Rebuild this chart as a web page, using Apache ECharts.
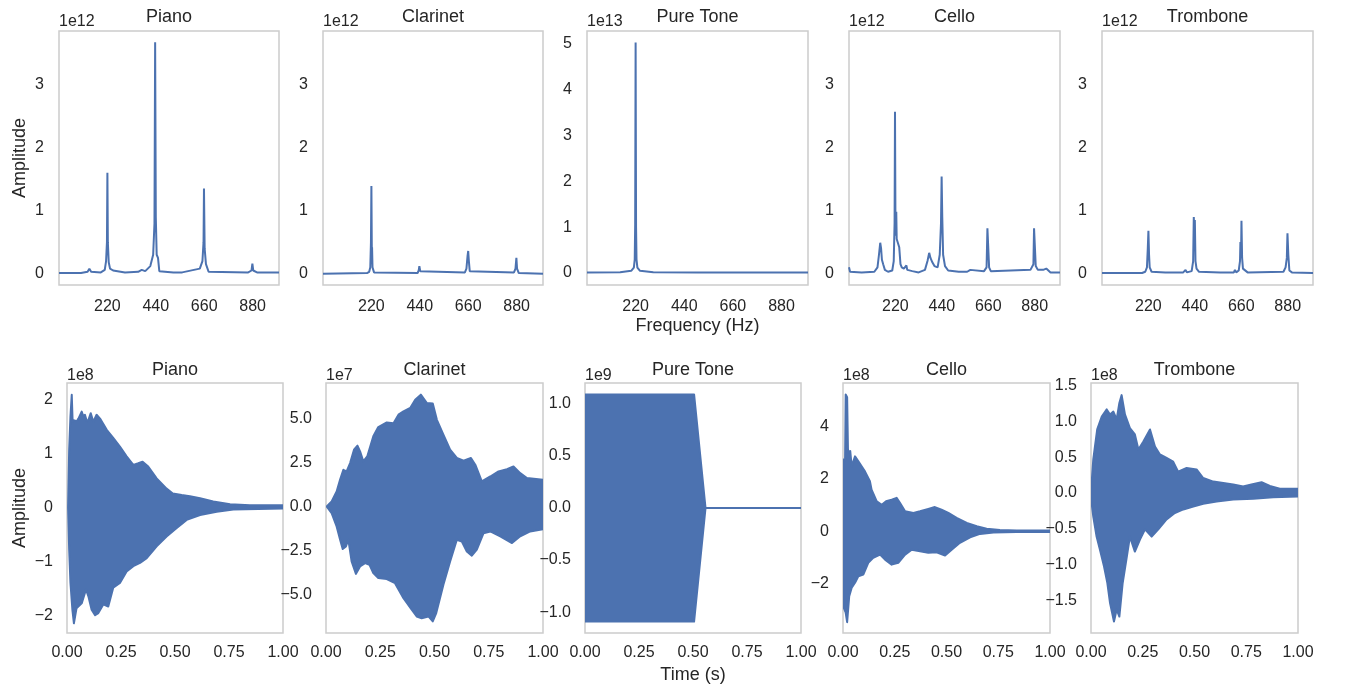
<!DOCTYPE html>
<html>
<head>
<meta charset="utf-8">
<title>Instrument spectra and waveforms</title>
<script src="https://cdn.jsdelivr.net/npm/echarts@6/dist/echarts.min.js"></script>
<style>
  html, body { margin: 0; padding: 0; background: #fff; }
  #chart { width: 1346px; height: 687px; }
</style>
</head>
<body>
<div id="chart"></div>
<script>
// ---- data ----
const instruments = ['Piano', 'Clarinet', 'Pure Tone', 'Cello', 'Trombone']
const freqTicks = [220, 440, 660, 880]
const timeTicks = [0, 0.25, 0.5, 0.75, 1]

// spectra: [Hz, amplitude] (1e12, pure tone 1e13)
const pianoSpec = [[0,0.01],[100,0.01],[130,0.03],[138,0.08],[146,0.03],[190,0.02],[208,0.06],[214,0.2],[218,0.5],[220,1.6],[222,0.5],[226,0.18],[232,0.08],[238,0.1],[246,0.05],[300,0.02],[360,0.03],[376,0.06],[392,0.04],[415,0.12],[428,0.3],[434,0.8],[437,3.67],[440,0.9],[444,0.3],[450,0.25],[456,0.04],[520,0.02],[560,0.02],[640,0.08],[652,0.2],[657,0.5],[659,1.35],[662,0.4],[668,0.15],[680,0.03],[860,0.02],[875,0.05],[879,0.16],[883,0.05],[900,0.02],[1000,0.02]]
const clarinetSpec = [[0,0],[200,0.01],[210,0.03],[215,0.1],[218,0.5],[220,1.39],[222,0.3],[223,0.42],[225,0.1],[232,0.02],[430,0.01],[435,0.05],[438,0.12],[442,0.04],[450,0.01],[645,0.02],[652,0.08],[657,0.28],[660,0.36],[663,0.2],[667,0.04],[675,0.01],[868,0.02],[875,0.08],[879,0.25],[882,0.08],[890,0.01],[1000,0]]
const pureSpec = [[0,0.01],[150,0.02],[200,0.05],[212,0.12],[216,0.3],[218,1.07],[220,5.02],[222,1.0],[224,0.3],[228,0.12],[240,0.05],[300,0.02],[500,0.01],[1000,0.01]]
const celloSpec = [[0,0.1],[5,0.03],[60,0.02],[120,0.03],[135,0.1],[142,0.3],[148,0.49],[152,0.4],[156,0.22],[162,0.15],[170,0.06],[185,0.03],[205,0.05],[212,0.2],[216,0.8],[218,2.57],[220,0.9],[222,0.6],[224,0.98],[226,0.55],[230,0.56],[238,0.42],[244,0.15],[250,0.1],[260,0.08],[268,0.06],[272,0.13],[276,0.06],[300,0.04],[330,0.02],[360,0.06],[372,0.2],[380,0.33],[386,0.25],[395,0.18],[405,0.12],[420,0.1],[430,0.3],[436,0.8],[439,1.54],[442,0.9],[446,0.3],[455,0.12],[470,0.05],[520,0.03],[560,0.03],[575,0.06],[580,0.03],[640,0.04],[652,0.1],[656,0.72],[661,0.73],[664,0.1],[672,0.04],[860,0.06],[874,0.15],[877,0.72],[882,0.73],[885,0.12],[895,0.06],[920,0.06],[935,0.08],[945,0.05],[955,0.02],[1000,0.02]]
const tromboneSpec = [[0,0.01],[190,0.01],[205,0.03],[213,0.1],[217,0.4],[220,0.68],[223,0.3],[226,0.1],[235,0.03],[300,0.02],[385,0.02],[396,0.06],[402,0.02],[425,0.04],[432,0.2],[435,0.9],[438,0.6],[440,0.85],[443,0.2],[448,0.08],[460,0.03],[560,0.02],[625,0.02],[630,0.06],[636,0.02],[648,0.05],[654,0.2],[656,0.5],[659,0.3],[661,0.84],[664,0.25],[668,0.08],[675,0.05],[690,0.02],[860,0.03],[870,0.1],[876,0.25],[879,0.64],[883,0.3],[888,0.05],[900,0.02],[1000,0.01]]

// waveform envelopes: [seconds, amplitude]
const pianoUpper = [[0.005,0],[0.01,1.07],[0.016,1.69],[0.022,2.09],[0.026,1.6],[0.03,1.62],[0.045,1.6],[0.053,1.65],[0.068,1.78],[0.075,1.7],[0.083,1.72],[0.092,1.6],[0.099,1.62],[0.11,1.75],[0.122,1.59],[0.137,1.72],[0.153,1.65],[0.184,1.44],[0.214,1.29],[0.245,1.13],[0.276,0.95],[0.307,0.79],[0.33,0.82],[0.35,0.85],[0.376,0.76],[0.415,0.54],[0.461,0.35],[0.49,0.26],[0.531,0.23],[0.569,0.21],[0.616,0.17],[0.677,0.11],[0.755,0.06],[0.847,0.04],[1.0,0.04]]
const pianoLower = [[0.005,0],[0.01,-0.78],[0.016,-1.4],[0.025,-1.9],[0.032,-2.15],[0.044,-1.87],[0.068,-1.78],[0.088,-1.52],[0.099,-1.65],[0.114,-1.9],[0.13,-2.0],[0.145,-1.96],[0.168,-1.8],[0.191,-1.84],[0.214,-1.49],[0.245,-1.4],[0.276,-1.19],[0.307,-1.09],[0.338,-1.03],[0.369,-0.94],[0.415,-0.72],[0.461,-0.54],[0.508,-0.38],[0.554,-0.23],[0.616,-0.14],[0.693,-0.08],[0.77,-0.04],[1.0,-0.02]]
const clarinetUpper = [[0.003,0],[0.026,0.28],[0.049,0.85],[0.065,1.52],[0.08,2.08],[0.095,1.99],[0.111,2.46],[0.129,3.22],[0.145,3.45],[0.157,3.13],[0.172,2.56],[0.19,2.84],[0.218,3.98],[0.241,4.51],[0.28,4.77],[0.311,4.73],[0.334,5.21],[0.357,5.4],[0.388,5.59],[0.411,6.06],[0.437,6.35],[0.465,5.87],[0.492,5.84],[0.511,4.92],[0.541,4.07],[0.572,3.22],[0.603,2.75],[0.634,2.6],[0.668,2.75],[0.688,2.37],[0.718,1.42],[0.757,1.7],[0.795,1.99],[0.834,2.12],[0.864,2.27],[0.895,1.89],[0.926,1.61],[1.0,1.52]]
const clarinetLower = [[0.003,0],[0.026,-0.38],[0.049,-1.14],[0.065,-1.89],[0.077,-2.42],[0.092,-2.27],[0.103,-1.89],[0.118,-3.12],[0.138,-3.83],[0.157,-3.41],[0.18,-3.22],[0.2,-3.31],[0.218,-3.79],[0.241,-4.07],[0.28,-4.13],[0.318,-4.36],[0.357,-5.21],[0.395,-5.87],[0.418,-6.25],[0.441,-6.35],[0.472,-6.25],[0.492,-6.53],[0.508,-6.06],[0.541,-4.45],[0.572,-3.12],[0.603,-1.89],[0.626,-1.99],[0.649,-2.56],[0.672,-2.8],[0.695,-2.46],[0.726,-1.52],[0.757,-1.42],[0.803,-1.7],[0.857,-2.08],[0.895,-1.7],[0.941,-1.42],[1.0,-1.29]]
const pureUpper = [[0.002,1.09],[0.505,1.09],[0.558,0],[1.0,0]]
const pureLower = [[0.002,-1.09],[0.505,-1.09],[0.558,0],[1.0,0]]
const celloUpper = [[0.001,2.73],[0.01,2.7],[0.013,5.2],[0.02,5.1],[0.024,3.1],[0.03,3.0],[0.035,3.05],[0.042,2.47],[0.058,2.85],[0.079,2.6],[0.106,2.28],[0.13,1.9],[0.138,1.58],[0.163,1.14],[0.187,1.01],[0.208,1.14],[0.235,1.2],[0.259,1.27],[0.275,1.08],[0.3,0.76],[0.34,0.7],[0.372,0.76],[0.412,0.85],[0.444,0.92],[0.476,0.82],[0.509,0.7],[0.549,0.51],[0.598,0.32],[0.646,0.19],[0.694,0.1],[0.758,0.05],[0.839,0.03],[1.0,0.03]]
const celloLower = [[0.001,-2.85],[0.013,-3.1],[0.02,-3.46],[0.03,-2.47],[0.042,-2.15],[0.058,-1.96],[0.074,-1.71],[0.098,-1.65],[0.122,-1.2],[0.146,-1.01],[0.179,-0.89],[0.203,-1.08],[0.235,-1.27],[0.267,-1.2],[0.3,-0.89],[0.332,-0.7],[0.372,-0.76],[0.412,-0.82],[0.452,-0.8],[0.493,-0.92],[0.525,-0.7],[0.565,-0.44],[0.614,-0.23],[0.662,-0.1],[0.727,-0.05],[0.839,-0.03],[1.0,-0.03]]
const tromboneUpper = [[0.003,0.14],[0.011,0.47],[0.019,0.65],[0.03,0.89],[0.052,1.07],[0.076,1.17],[0.092,1.1],[0.108,1.14],[0.124,1.03],[0.137,1.26],[0.148,1.37],[0.164,1.1],[0.188,0.91],[0.212,0.82],[0.229,0.61],[0.253,0.72],[0.285,0.89],[0.309,0.65],[0.333,0.54],[0.365,0.49],[0.397,0.44],[0.421,0.3],[0.462,0.35],[0.51,0.33],[0.542,0.21],[0.591,0.16],[0.639,0.14],[0.687,0.12],[0.735,0.09],[0.775,0.12],[0.824,0.15],[0.864,0.1],[0.912,0.06],[1.0,0.06]]
const tromboneLower = [[0.003,-0.14],[0.011,-0.33],[0.027,-0.61],[0.043,-0.79],[0.063,-1.03],[0.079,-1.26],[0.092,-1.54],[0.111,-1.8],[0.124,-1.63],[0.137,-1.73],[0.153,-1.26],[0.172,-0.91],[0.188,-0.61],[0.212,-0.82],[0.237,-0.65],[0.261,-0.51],[0.293,-0.61],[0.325,-0.51],[0.365,-0.37],[0.405,-0.28],[0.446,-0.23],[0.494,-0.19],[0.542,-0.15],[0.607,-0.12],[0.687,-0.09],[0.784,-0.08],[0.88,-0.06],[1.0,-0.05]]

// tick labels
const specTicks = [0, 1, 2, 3]
const pureSpecTicks = [0, 1, 2, 3, 4, 5]
const waveTicks = [[-2, -1, 0, 1, 2], [-5, -2.5, 0, 2.5, 5], [-1, -0.5, 0, 0.5, 1], [-2, 0, 2, 4], [-1.5, -1, -0.5, 0, 0.5, 1, 1.5]]
const waveDecimals = [0, 1, 1, 0, 1]
const specExp = ['1e12', '1e12', '1e13', '1e12', '1e12']
const waveExp = ['1e8', '1e7', '1e9', '1e8', '1e8']

// ---- layout ----
const COLOR = '#4c72b0'
const TEXT = '#262626'
const FONT = '"Liberation Sans", Arial, sans-serif'
const TICK_SIZE = 16
const TITLE_SIZE = 18

const topLeft = [59, 323, 587, 849, 1102]
const topWidth = [220, 220, 221, 211, 211]
const botLeft = [67, 326, 585, 843, 1091]
const botWidth = [216, 217, 216, 207, 207]
const TOP_Y = 31, TOP_H = 254, BOT_Y = 383, BOT_H = 250

const specRange = [[-0.18, 3.85], [-0.18, 3.85], [-0.26, 5.27], [-0.18, 3.85], [-0.18, 3.85]]
const waveRange = [[-2.33, 2.31], [-7.19, 7.01], [-1.2, 1.2], [-3.87, 5.64], [-1.96, 1.54]]

const specs = [pianoSpec, clarinetSpec, pureSpec, celloSpec, tromboneSpec]
const uppers = [pianoUpper, clarinetUpper, pureUpper, celloUpper, tromboneUpper]
const lowers = [pianoLower, clarinetLower, pureLower, celloLower, tromboneLower]

const minus = s => String(s).replace('-', '\u2212')

const grids = [], xAxes = [], yAxes = [], series = [], graphics = []

function labelStyle (values, formatter, margin) {
  return {
    customValues: values,
    formatter: formatter,
    color: TEXT,
    fontSize: TICK_SIZE,
    fontFamily: FONT,
    margin: margin
  }
}

function addText (text, x, y, size, rotate, align) {
  graphics.push({
    type: 'text', x: x, y: y, rotation: rotate || 0, silent: true,
    style: { text: text, fill: TEXT, font: size + 'px ' + FONT, align: align || 'center', verticalAlign: 'middle' }
  })
}

instruments.forEach((name, i) => {
  // top row: spectra
  grids.push({ left: topLeft[i], top: TOP_Y, width: topWidth[i], height: TOP_H, show: true, borderColor: '#cccccc', borderWidth: 1.5, backgroundColor: '#fff' })
  xAxes.push({
    type: 'value', gridIndex: i, min: 0, max: 1000,
    axisLine: { show: false }, axisTick: { show: false }, splitLine: { show: false },
    axisLabel: labelStyle(freqTicks, v => String(v), 14)
  })
  yAxes.push({
    type: 'value', gridIndex: i, min: specRange[i][0], max: specRange[i][1],
    axisLine: { show: false }, axisTick: { show: false }, splitLine: { show: false },
    axisLabel: labelStyle(i === 2 ? pureSpecTicks : specTicks, v => String(v), 15)
  })
  series.push({
    type: 'line', xAxisIndex: i, yAxisIndex: i, data: specs[i],
    showSymbol: false, symbol: 'none', clip: true,
    lineStyle: { color: COLOR, width: 2 }, itemStyle: { color: COLOR }
  })
  addText(name, topLeft[i] + topWidth[i] / 2, 17.5, TITLE_SIZE)
  addText(specExp[i], topLeft[i], 22, TICK_SIZE, 0, 'left')
})

instruments.forEach((name, i) => {
  // bottom row: waveforms
  const g = i + 5
  const dec = waveDecimals[i]
  grids.push({ left: botLeft[i], top: BOT_Y, width: botWidth[i], height: BOT_H, show: true, borderColor: '#cccccc', borderWidth: 1.5, backgroundColor: '#fff' })
  xAxes.push({
    type: 'value', gridIndex: g, min: 0, max: 1,
    axisLine: { show: false }, axisTick: { show: false }, splitLine: { show: false },
    axisLabel: labelStyle(timeTicks, v => v.toFixed(2), 12)
  })
  yAxes.push({
    type: 'value', gridIndex: g, min: waveRange[i][0], max: waveRange[i][1],
    axisLine: { show: false }, axisTick: { show: false }, splitLine: { show: false },
    axisLabel: labelStyle(waveTicks[i], v => minus(Math.abs(v) < 1e-9 ? (0).toFixed(dec) : v.toFixed(dec)), 14)
  })
  const up = uppers[i], lo = lowers[i]
  series.push({
    type: 'custom', xAxisIndex: g, yAxisIndex: g, clip: true,
    data: [up[0]],
    renderItem: function (params, api) {
      const pts = up.map(p => api.coord(p)).concat(lo.slice().reverse().map(p => api.coord(p)))
      return {
        type: 'polygon',
        shape: { points: pts },
        style: { fill: COLOR, stroke: COLOR, lineWidth: 2, lineJoin: 'round' }
      }
    }
  })
  addText(name, botLeft[i] + botWidth[i] / 2, 370.5, TITLE_SIZE)
  addText(waveExp[i], botLeft[i], 376, TICK_SIZE, 0, 'left')
})

addText('Amplitude', 20, 158, TITLE_SIZE, Math.PI / 2)
addText('Amplitude', 20, 508, TITLE_SIZE, Math.PI / 2)
addText('Frequency (Hz)', 697.5, 326.5, TITLE_SIZE)
addText('Time (s)', 693, 675.5, TITLE_SIZE)

const chart = echarts.init(document.getElementById('chart'), null, { renderer: 'canvas' })
chart.setOption({
  backgroundColor: '#ffffff',
  animation: false,
  grid: grids,
  xAxis: xAxes,
  yAxis: yAxes,
  series: series,
  graphic: graphics
})
</script>
</body>
</html>
